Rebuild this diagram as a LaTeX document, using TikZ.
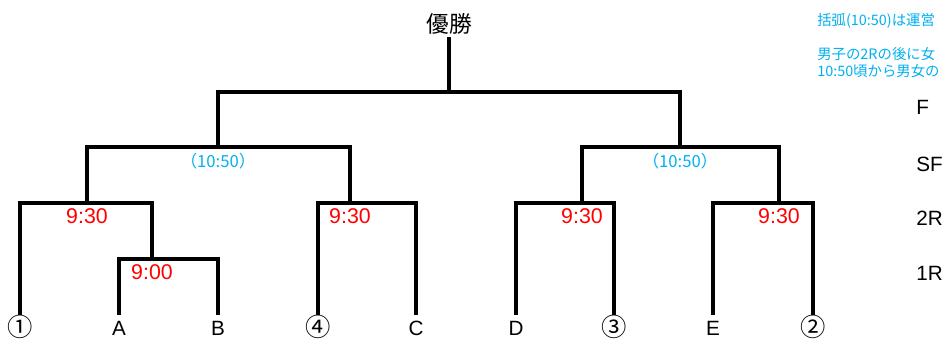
\documentclass[tikz,border=0pt]{standalone}
\usepackage{fontspec}
\setmainfont{Liberation Sans}
\newfontfamily\cjk{Noto Sans CJK JP}
\usetikzlibrary{positioning}
\definecolor{NoteBlue}{RGB}{0,176,240}
\definecolor{TimeRed}{RGB}{255,0,0}
\newcommand{\seed}[1]{\raisebox{-1.4pt}{\cjk\fontsize{19}{22}\selectfont #1}}

\begin{document}
\begin{tikzpicture}[x=0.75pt, y=-0.75pt,
  bracket/.style={line width=2.6pt, black},
  entrant/.style={font=\fontsize{15.5}{18}\selectfont, inner sep=1pt, text height=14pt, text depth=0pt, anchor=base},
  timeRed/.style={font=\fontsize{16}{18}\selectfont, text=TimeRed, inner sep=0pt},
  timeBlue/.style={font=\cjk\fontsize{12.5}{14}\selectfont, text=NoteBlue, inner sep=0pt},
  roundLabel/.style={font=\fontsize{15.5}{18}\selectfont, anchor=west, inner sep=0pt},
  note/.style={font=\cjk\fontsize{10.8}{12.75}\selectfont, text=NoteBlue, anchor=base west, inner sep=0pt}]

\useasboundingbox (0,0) rectangle (946,339);

% levels of the bracket
\def \yF    {92}
\def \ySF   {147}
\def \yTWO  {203}
\def \yONE  {259}
\def \yBASE {335}

% champion
\node[font=\cjk\fontsize{17}{20}\selectfont, inner sep=2pt, anchor=south] (champ) at (449,37) {優勝};

% junctions
\coordinate (final) at (449,\yF);
\coordinate (semiL) at (218,\ySF);
\coordinate (semiR) at (680,\ySF);
\coordinate (m1) at (87,\yTWO);
\coordinate (m2) at (350,\yTWO);
\coordinate (m3) at (582,\yTWO);
\coordinate (m4) at (779,\yTWO);
\coordinate (m0) at (152,\yONE);

% entrants
\node[entrant] (e1) at (20,\yBASE)  {\seed{①}};
\node[entrant] (eA) at (119,\yBASE) {A};
\node[entrant] (eB) at (218,\yBASE) {B};
\node[entrant] (e4) at (318,\yBASE) {\seed{④}};
\node[entrant] (eC) at (416,\yBASE) {C};
\node[entrant] (eD) at (516,\yBASE) {D};
\node[entrant] (e3) at (614,\yBASE) {\seed{③}};
\node[entrant] (eE) at (713,\yBASE) {E};
\node[entrant] (e2) at (813,\yBASE) {\seed{②}};

% 1R and 2R
\draw[bracket] (eA.north) |- (m0) -| (eB.north);
\draw[bracket] (e1.north) |- (m1) -| (m0);
\draw[bracket] (e4.north) |- (m2) -| (eC.north);
\draw[bracket] (eD.north) |- (m3) -| (e3.north);
\draw[bracket] (eE.north) |- (m4) -| (e2.north);

% SF and F
\draw[bracket] (m1) |- (semiL) -| (m2);
\draw[bracket] (m3) |- (semiR) -| (m4);
\draw[bracket] (semiL) |- (final) -| (semiR);
\draw[bracket] (champ.south) -- (final);

% times
\node[timeRed, below=4pt of m0] (t0) {9:00};
\node[timeRed, below=4pt of m1] (t1) {9:30};
\node[timeRed, below=4pt of m2] (t2) {9:30};
\node[timeRed, below=4pt of m3] (t3) {9:30};
\node[timeRed, below=4pt of m4] (t4) {9:30};
\node[timeBlue, below=4.5pt of semiL] (tL) {（10:50）};
\node[timeBlue, below=4.5pt of semiR] (tR) {（10:50）};

% rounds
\node[roundLabel] (rF)   at (916,107) {F};
\node[roundLabel] (rSF)  at (916,164) {SF};
\node[roundLabel] (rTWO) at (916,218) {2R};
\node[roundLabel] (rONE) at (916,273) {1R};

% note
\node[note] (note1) at (817,25) {括弧(10:50)は運営};
\node[note] (note2) at (817,59) {男子の2Rの後に女};
\node[note] (note3) at (817,76) {10:50頃から男女の};

\end{tikzpicture}
\end{document}
